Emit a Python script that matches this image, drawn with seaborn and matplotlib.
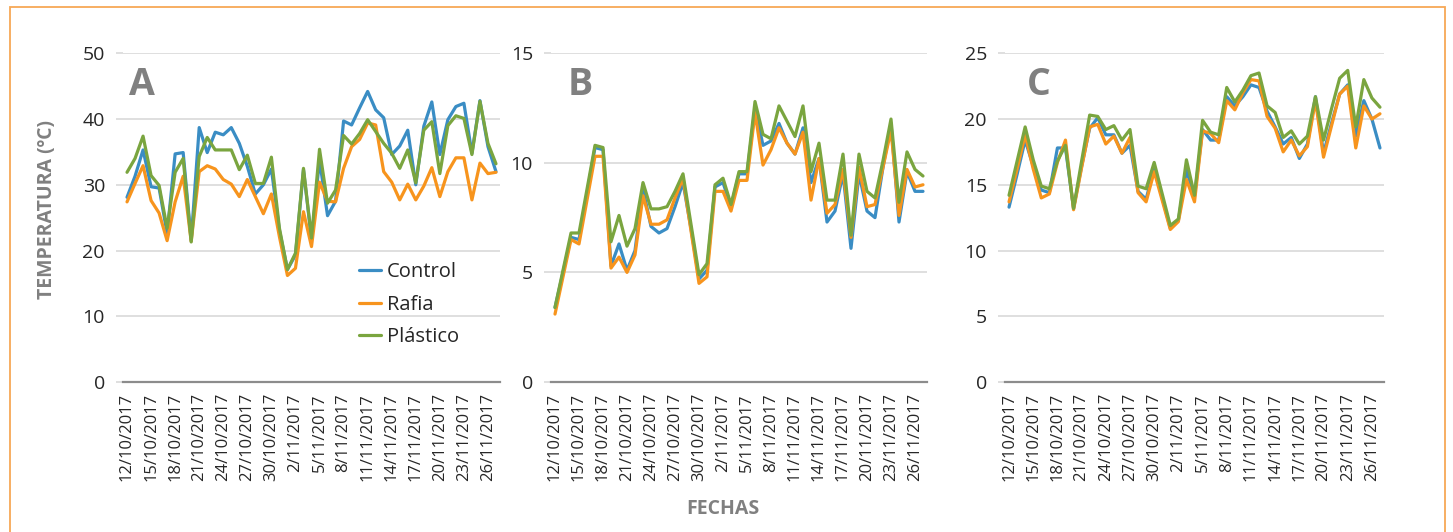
import matplotlib.pyplot as plt
import matplotlib.patches as mpatches
import pandas as pd
import seaborn as sns

# fechas diarias 12/10/2017 - 27/11/2017
fechas = pd.date_range('2017-10-12', '2017-11-27', freq='D')
etiquetas = ['12/10/2017', '15/10/2017', '18/10/2017', '21/10/2017', '24/10/2017',
             '27/10/2017', '30/10/2017', '2/11/2017', '5/11/2017', '8/11/2017',
             '11/11/2017', '14/11/2017', '17/11/2017', '20/11/2017', '23/11/2017',
             '26/11/2017']

# A
control_a = [28.1, 31.3, 35.3, 29.7, 29.5, 22.6, 34.7, 34.9, 21.6, 38.7, 34.9, 38.0,
             37.6, 38.7, 36.3, 32.8, 28.6, 30.0, 32.4, 23.1, 17.1, 19.3, 32.3, 21.7,
             33.8, 25.3, 27.5, 39.7, 39.1, 41.7, 44.2, 41.4, 40.2, 34.6, 35.9, 38.3,
             30.0, 38.9, 42.6, 34.6, 39.9, 41.9, 42.4, 34.8, 42.8, 35.8, 32.0]
rafia_a = [27.4, 30.2, 32.9, 27.6, 25.7, 21.5, 27.4, 31.3, 21.4, 32.0, 32.9, 32.4,
           30.8, 30.1, 28.2, 30.8, 28.2, 25.6, 28.6, 22.1, 16.2, 17.3, 25.9, 20.6,
           30.4, 27.5, 27.4, 32.5, 35.8, 36.9, 39.4, 39.1, 32.0, 30.4, 27.7, 30.1,
           27.7, 29.8, 32.6, 28.2, 32.0, 34.1, 34.1, 27.7, 33.3, 31.7, 31.9]
plastico_a = [31.9, 34.0, 37.4, 31.4, 29.9, 23.4, 31.9, 34.0, 21.3, 34.3, 37.2, 35.3,
              35.3, 35.3, 32.3, 34.5, 30.2, 30.2, 34.2, 23.4, 17.1, 19.6, 32.5, 21.9,
              35.4, 27.2, 29.2, 37.5, 36.2, 37.8, 39.9, 38.1, 36.3, 34.8, 32.5, 35.3,
              30.3, 38.3, 39.6, 31.7, 39.0, 40.5, 40.1, 34.6, 42.7, 36.3, 33.2]

# B
control_b = [3.4, 5.0, 6.6, 6.5, 8.6, 10.7, 10.6, 5.3, 6.3, 5.1, 6.0, 8.8,
             7.1, 6.8, 7.0, 8.0, 9.1, 7.0, 4.7, 5.1, 8.9, 9.1, 8.0, 9.5,
             9.5, 12.5, 10.8, 11.0, 11.8, 10.9, 10.4, 11.6, 9.1, 10.2, 7.3, 7.8,
             9.5, 6.1, 9.5, 7.8, 7.5, 9.8, 11.8, 7.3, 9.6, 8.7, 8.7]
rafia_b = [3.1, 4.8, 6.5, 6.3, 8.3, 10.3, 10.3, 5.2, 5.7, 5.0, 5.8, 8.5,
           7.2, 7.2, 7.4, 8.4, 9.3, 6.9, 4.5, 4.8, 8.7, 8.7, 7.8, 9.2,
           9.2, 12.3, 9.9, 10.6, 11.6, 10.9, 10.4, 11.4, 8.3, 10.2, 7.7, 8.1,
           9.7, 6.6, 9.8, 8.0, 8.1, 9.8, 11.5, 7.6, 9.7, 8.9, 9.0]
plastico_b = [3.4, 5.1, 6.8, 6.8, 8.8, 10.8, 10.7, 6.4, 7.6, 6.2, 7.0, 9.1,
              7.9, 7.9, 8.0, 8.7, 9.5, 7.2, 4.9, 5.4, 9.0, 9.3, 8.1, 9.6,
              9.6, 12.8, 11.3, 11.1, 12.6, 11.9, 11.2, 12.6, 9.6, 10.9, 8.3, 8.3,
              10.4, 6.7, 10.4, 8.7, 8.4, 10.1, 12.0, 8.2, 10.5, 9.7, 9.4]

# C
control_c = [13.3, 15.8, 18.4, 16.4, 14.6, 14.4, 17.8, 17.8, 13.2, 16.4, 19.3, 20.1,
             18.8, 18.8, 17.4, 18.0, 14.5, 13.9, 16.3, 14.0, 11.7, 12.3, 16.1, 14.1,
             19.2, 18.4, 18.4, 21.7, 21.0, 21.7, 22.6, 22.4, 20.6, 19.4, 18.1, 18.6,
             17.0, 18.1, 21.7, 17.4, 19.7, 21.9, 22.6, 18.7, 21.4, 20.0, 17.8]
rafia_c = [13.7, 16.2, 18.8, 16.2, 14.0, 14.3, 16.7, 18.4, 13.1, 16.3, 19.4, 19.6,
           18.1, 18.7, 17.4, 18.6, 14.4, 13.7, 16.0, 13.8, 11.6, 12.2, 15.4, 13.7,
           19.1, 18.9, 18.2, 21.4, 20.7, 22.0, 23.0, 22.9, 20.2, 19.3, 17.5, 18.4,
           17.2, 17.9, 21.4, 17.1, 19.5, 21.9, 22.5, 17.8, 21.0, 20.0, 20.4]
plastico_c = [14.2, 16.8, 19.4, 16.9, 14.9, 14.7, 16.8, 18.0, 13.2, 16.8, 20.3, 20.2,
              19.2, 19.5, 18.4, 19.2, 14.9, 14.7, 16.7, 14.3, 11.9, 12.4, 16.9, 14.2,
              19.9, 19.0, 18.8, 22.4, 21.3, 22.2, 23.3, 23.5, 21.0, 20.5, 18.6, 19.1,
              18.1, 18.7, 21.7, 18.4, 20.8, 23.1, 23.7, 19.4, 23.0, 21.6, 20.9]

series = ['Control', 'Rafia', 'Plástico']
colores = {'Control': '#3A8DC4', 'Rafia': '#F7941D', 'Plástico': '#7AA53F'}

sns.set_style('white')
plt.rcParams['font.family'] = ['Open Sans', 'DejaVu Sans']

W, H = 1453, 532
fig = plt.figure(figsize=(W / 100, H / 100), dpi=100)

# borde naranja
fig.patches.append(mpatches.Rectangle((10 / W, -0.05), 1435 / W, 1 - 7 / H + 0.05,
                                      transform=fig.transFigure, fill=False,
                                      edgecolor='#F7A856', lw=1.3))

paneles = [
    ('A', 123, 377, 50, 10, (control_a, rafia_a, plastico_a)),
    ('B', 551, 376, 15, 5, (control_b, rafia_b, plastico_b)),
    ('C', 1005, 379, 25, 5, (control_c, rafia_c, plastico_c)),
]

for letra, x0, w, ymax, paso, datos in paneles:
    ax = fig.add_axes([x0 / W, 150 / H, w / W, 328.7 / H])
    df = pd.DataFrame({
        'fecha': list(fechas) * 3,
        'temp': datos[0] + datos[1] + datos[2],
        'serie': [s for s in series for _ in fechas],
    })
    sns.lineplot(data=df, x='fecha', y='temp', hue='serie', hue_order=series,
                 palette=colores, linewidth=2.3, errorbar=None, ax=ax,
                 legend=(letra == 'A'))
    ax.set_ylim(0, ymax)
    ax.set_yticks(range(0, ymax + 1, paso))
    ax.set_xlim(fechas[0] - pd.Timedelta(hours=12), fechas[-1] + pd.Timedelta(hours=12))
    ax.set_xticks(fechas[::3])
    ax.set_xticklabels(etiquetas, rotation=90)
    ax.set_xlabel('')
    ax.set_ylabel('')
    ax.set_axisbelow(True)
    ax.grid(axis='y', color='#D9D9D9', lw=1.2)
    for s in ['top', 'right', 'left']:
        ax.spines[s].set_visible(False)
    ax.spines['bottom'].set_color('#8C8C8C')
    ax.spines['bottom'].set_linewidth(1.6)
    ax.tick_params(axis='y', length=5, color='#D9D9D9', width=1.2, pad=8,
                   labelsize=14, labelcolor='#262626', left=True)
    ax.tick_params(axis='x', length=0, pad=8, labelsize=12, labelcolor='#262626')
    ax.text(0.016 if letra == 'A' else (0.043 if letra == 'B' else 0.058), 0.873, letra,
            transform=ax.transAxes, fontsize=27, fontweight='bold', color='#808080',
            ha='left', va='baseline')
    if letra == 'A':
        ax.legend(loc='upper left', bbox_to_anchor=(0.626, 0.366), frameon=False,
                  fontsize=14.5, handlelength=1.1, handletextpad=0.3, labelspacing=0.64,
                  borderpad=0, borderaxespad=0, labelcolor='#262626')

fig.text(47 / W, 0.607, 'TEMPERATURA (ºC)', rotation=90, ha='center', va='center',
         fontsize=14, fontweight='bold', color='#808080')
fig.text(723 / W, (H - 509) / H, 'FECHAS', ha='center', va='center',
         fontsize=14, fontweight='bold', color='#808080')

fig.savefig('out.png', dpi=100)
